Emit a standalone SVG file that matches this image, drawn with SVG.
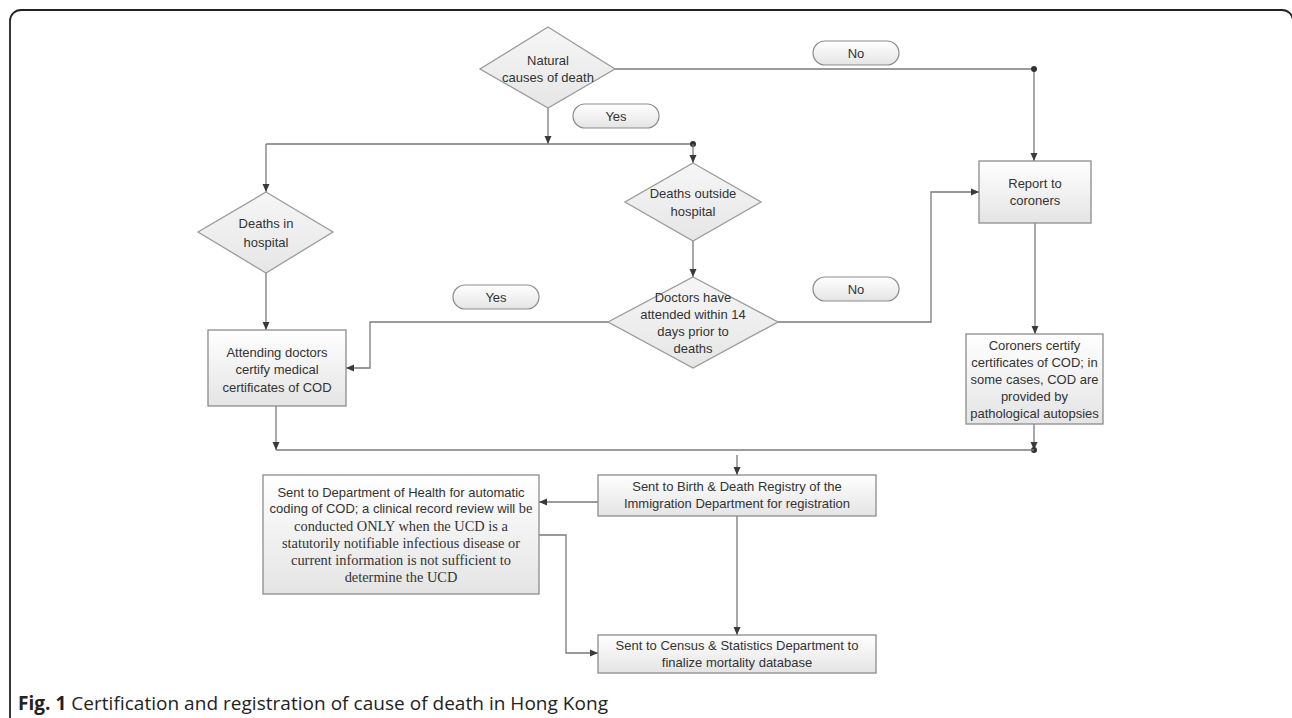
<svg xmlns="http://www.w3.org/2000/svg" width="1292" height="718" viewBox="0 0 1292 718">
<defs>
<linearGradient id="g" x1="0" y1="0" x2="0" y2="1">
<stop offset="0" stop-color="#ffffff"/>
<stop offset="1" stop-color="#e4e4e4"/>
</linearGradient>
<linearGradient id="gd" x1="0" y1="0" x2="0" y2="1">
<stop offset="0" stop-color="#f6f6f6"/>
<stop offset="1" stop-color="#e6e6e6"/>
</linearGradient>
<marker id="ar" markerUnits="userSpaceOnUse" markerWidth="9" markerHeight="8" refX="8" refY="4" orient="auto">
<path d="M0,0.5 L8,4 L0,7.5 z" fill="#3a3a3a"/>
</marker>
</defs>
<style>
.box{fill:url(#g);stroke:#8c8c8c;stroke-width:1.3}
.dia{fill:url(#gd);stroke:#9a9a9a;stroke-width:1.3}
.pill{fill:url(#g);stroke:#8c8c8c;stroke-width:1.2}
.t{font-family:"Liberation Sans",Arial,sans-serif;font-size:13px;fill:#333;text-anchor:middle}
.s{font-family:"Liberation Serif","Times New Roman",serif;font-size:14.4px;fill:#333;text-anchor:middle}
.c{fill:none;stroke:#7a7a7a;stroke-width:1.3}
.a{marker-end:url(#ar)}
.dot{fill:#333}
.cap{font-family:"Open Sans",sans-serif;font-size:19px;fill:#222}
</style>
<rect x="10" y="10" width="1283" height="730" rx="11" fill="none" stroke="#222" stroke-width="1.8"/>

<g id="connectors">
<path class="c" d="M615,69 H1034"/>
<path class="c a" d="M1034,69 V161"/>
<circle class="dot" cx="1034" cy="69" r="3"/>
<path class="c a" d="M548,108 V144"/>
<path class="c" d="M266,144 H693"/>
<circle class="dot" cx="693" cy="144" r="3"/>
<path class="c a" d="M266,144 V192"/>
<path class="c a" d="M693,144 V163"/>
<path class="c a" d="M266,273 V330"/>
<path class="c a" d="M693,241 V277"/>
<path class="c a" d="M608,322 H370 V368 H346"/>
<path class="c a" d="M778,322 H931 V192 H979"/>
<path class="c a" d="M1035,223 V334"/>
<path class="c a" d="M1034,424 V450"/>
<circle class="dot" cx="1034" cy="450" r="3"/>
<path class="c a" d="M276,406 V450"/>
<path class="c" d="M276,450 H1034"/>
<path class="c a" d="M737,455 V475"/>
<path class="c a" d="M598,502 H539"/>
<path class="c a" d="M539,535 H566 V653 H598"/>
<path class="c a" d="M737,516 V635"/>
</g>

<g id="natural">
<polygon class="dia" points="548,27 615,69 548,108 480,69"/>
<text class="t" x="548" y="64.5">Natural</text>
<text class="t" x="548" y="81.5">causes of death</text>
</g>
<g id="no1">
<rect class="pill" x="813" y="41" width="86" height="24" rx="12"/>
<text class="t" x="856" y="57.5">No</text>
</g>
<g id="yes1">
<rect class="pill" x="573" y="104" width="86" height="24" rx="12"/>
<text class="t" x="616" y="120.5">Yes</text>
</g>
<g id="deaths-in-hospital">
<polygon class="dia" points="266,192 333,232 266,273 198,232"/>
<text class="t" x="266" y="227.5">Deaths in</text>
<text class="t" x="266" y="246.5">hospital</text>
</g>
<g id="deaths-outside">
<polygon class="dia" points="693,163 761,202 693,241 625,202"/>
<text class="t" x="693" y="197.5">Deaths outside</text>
<text class="t" x="693" y="215.5">hospital</text>
</g>
<g id="doctors">
<polygon class="dia" points="693,277 778,322 693,368 608,322"/>
<text class="t" x="693" y="301.5">Doctors have</text>
<text class="t" x="693" y="318.5">attended within 14</text>
<text class="t" x="693" y="335.5">days prior to</text>
<text class="t" x="693" y="352.5">deaths</text>
</g>
<g id="yes2">
<rect class="pill" x="453" y="285" width="86" height="24" rx="12"/>
<text class="t" x="496" y="301.5">Yes</text>
</g>
<g id="no2">
<rect class="pill" x="813" y="277" width="86" height="24" rx="12"/>
<text class="t" x="856" y="293.5">No</text>
</g>
<g id="report">
<rect class="box" x="979" y="161" width="112" height="62"/>
<text class="t" x="1035" y="187.5">Report to</text>
<text class="t" x="1035" y="204.5">coroners</text>
</g>
<g id="coroners">
<rect class="box" x="966" y="334" width="137" height="90"/>
<text class="t" x="1034.5" y="349.5">Coroners certify</text>
<text class="t" x="1034.5" y="366.5">certificates of COD; in</text>
<text class="t" x="1034.5" y="383.5">some cases, COD are</text>
<text class="t" x="1034.5" y="400.5">provided by</text>
<text class="t" x="1034.5" y="417.5">pathological autopsies</text>
</g>
<g id="attending">
<rect class="box" x="208" y="330" width="138" height="76"/>
<text class="t" x="277" y="356.5">Attending doctors</text>
<text class="t" x="277" y="374">certify medical</text>
<text class="t" x="277" y="391.5">certificates of COD</text>
</g>
<g id="birth">
<rect class="box" x="598" y="475" width="278" height="41"/>
<text class="t" x="737" y="490.5">Sent to Birth &amp; Death Registry of the</text>
<text class="t" x="737" y="507.5">Immigration Department for registration</text>
</g>
<g id="health">
<rect class="box" x="263" y="475" width="276" height="119"/>
<text class="t" x="401" y="496.5">Sent to Department of Health for automatic</text>
<text class="t" x="401" y="513">coding of COD; a clinical record review will <tspan style="font-family:'Liberation Serif',serif;font-size:14.4px">be</tspan></text>
<text class="s" x="401" y="530.5">conducted ONLY when the UCD is a</text>
<text class="s" x="401" y="547.5">statutorily notifiable infectious disease or</text>
<text class="s" x="401" y="564.5">current information is not sufficient to</text>
<text class="s" x="401" y="581.5">determine the UCD</text>
</g>
<g id="census">
<rect class="box" x="598" y="635" width="278" height="38"/>
<text class="t" x="737" y="649.5">Sent to Census &amp; Statistics Department to</text>
<text class="t" x="737" y="666.5">finalize mortality database</text>
</g>
<text class="cap" x="18" y="710" textLength="590" lengthAdjust="spacing"><tspan font-weight="bold">Fig. 1</tspan> Certification and registration of cause of death in Hong Kong</text>
</svg>
